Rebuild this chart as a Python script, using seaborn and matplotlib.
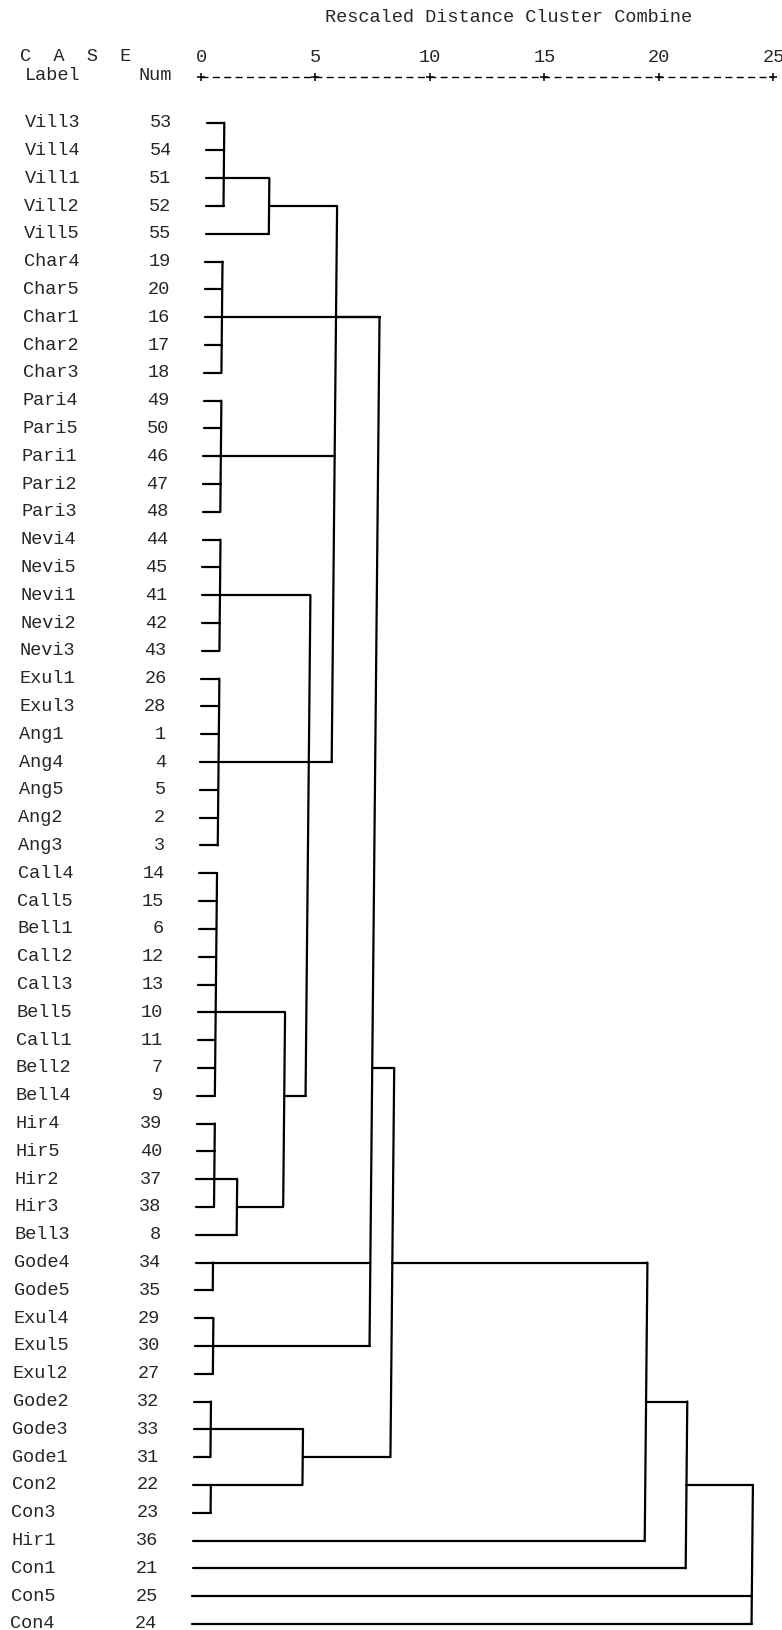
import matplotlib
matplotlib.use("Agg")
import pandas as pd
import matplotlib.pyplot as plt
import seaborn as sns

# --- estilo ---
sns.set_style("white")
plt.rcParams['font.family'] = ['Liberation Mono', 'DejaVu Sans Mono']

case_labels = ["Vill3", "Vill4", "Vill1", "Vill2", "Vill5",
               "Char4", "Char5", "Char1", "Char2", "Char3",
               "Pari4", "Pari5", "Pari1", "Pari2", "Pari3",
               "Nevi4", "Nevi5", "Nevi1", "Nevi2", "Nevi3",
               "Exul1", "Exul3", "Ang1", "Ang4", "Ang5", "Ang2", "Ang3",
               "Call4", "Call5", "Bell1", "Call2", "Call3", "Bell5", "Call1", "Bell2", "Bell4",
               "Hir4", "Hir5", "Hir2", "Hir3", "Bell3",
               "Gode4", "Gode5", "Exul4", "Exul5", "Exul2",
               "Gode2", "Gode3", "Gode1", "Con2", "Con3",
               "Hir1", "Con1", "Con5", "Con4"]
case_nums = [53, 54, 51, 52, 55, 19, 20, 16, 17, 18, 49, 50, 46, 47, 48,
             44, 45, 41, 42, 43, 26, 28, 1, 4, 5, 2, 3,
             14, 15, 6, 12, 13, 10, 11, 7, 9, 39, 40, 37, 38, 8,
             34, 35, 29, 30, 27, 32, 33, 31, 22, 23, 36, 21, 25, 24]

# fusoes: nome, filhos, distancia reescalada, caso onde sai a linha de ligacao
merge_names = ["V1", "V", "C", "P", "N", "EA", "CB", "H", "HB", "CBH", "NEC", "VPN",
               "G45", "E452", "T", "G231", "C23", "GC", "TG", "TH", "TC", "ALL"]
merge_children = [
    ["Vill3", "Vill4", "Vill1", "Vill2"],
    ["V1", "Vill5"],
    ["Char4", "Char5", "Char1", "Char2", "Char3"],
    ["Pari4", "Pari5", "Pari1", "Pari2", "Pari3"],
    ["Nevi4", "Nevi5", "Nevi1", "Nevi2", "Nevi3"],
    ["Exul1", "Exul3", "Ang1", "Ang4", "Ang5", "Ang2", "Ang3"],
    ["Call4", "Call5", "Bell1", "Call2", "Call3", "Bell5", "Call1", "Bell2", "Bell4"],
    ["Hir4", "Hir5", "Hir2", "Hir3"],
    ["H", "Bell3"],
    ["CB", "HB"],
    ["N", "EA", "CBH"],
    ["V", "P", "NEC"],
    ["Gode4", "Gode5"],
    ["Exul4", "Exul5", "Exul2"],
    ["VPN", "C", "G45", "E452"],
    ["Gode2", "Gode3", "Gode1"],
    ["Con2", "Con3"],
    ["G231", "C23"],
    ["T", "GC"],
    ["TG", "Hir1"],
    ["TH", "Con1"],
    ["TC", "Con5", "Con4"],
]
merge_heights = [1.04, 3.03, 1.02, 1.03, 1.05, 1.06, 1.04, 1.05, 2.05, 4.07, 5.0, 6.0,
                 1.03, 1.07, 7.9, 1.0, 1.03, 5.03, 8.86, 20.0, 21.8, 24.7]
merge_anchors = ["Vill1", "Vill2", "Char1", "Pari1", "Nevi1", "Ang4", "Bell5", "Hir2",
                 "Hir3", "Bell4", "Ang4", "Char1", "Gode4", "Exul5", "Bell2", "Gode3",
                 "Con2", "Gode1", "Gode4", "Gode2", "Con2", "Con5"]

scale_ticks = [0, 5, 10, 15, 20, 25]
LEAF_START = 0.27

# --- layout (pixels da imagem) ---
W, H = 782, 1630
X0_PX, PX_PER_UNIT = 200.5, 22.9
ROW0_PX, PX_PER_ROW = 122.7, 27.8
SHEAR = -0.27 / PX_PER_UNIT   # pagina digitalizada levemente inclinada


def ux(px):
    return (px - X0_PX) / PX_PER_UNIT


def ry(py):
    return (py - ROW0_PX) / PX_PER_ROW


def sx(u, r):
    return u + SHEAR * r


# --- monta os segmentos do dendrograma ---
nodes = {lab: (i, LEAF_START) for i, lab in enumerate(case_labels)}
rows = []
seg = 0
for name, kids, h, anchor in zip(merge_names, merge_children, merge_heights, merge_anchors):
    kid_rows = []
    for k in kids:
        r, hk = nodes[k]
        kid_rows.append(r)
        rows += [(seg, sx(hk, r), r), (seg, sx(h, r), r)]
        seg += 1
    rows += [(seg, sx(h, min(kid_rows)), min(kid_rows)),
             (seg, sx(h, max(kid_rows)), max(kid_rows))]
    seg += 1
    nodes[name] = (case_labels.index(anchor), h)

df_seg = pd.DataFrame(rows, columns=["seg", "x", "row"])

fig = plt.figure(figsize=(W / 100, H / 100), dpi=100)
ax = fig.add_axes([0, 0, 1, 1])

sns.lineplot(data=df_seg, x="x", y="row", units="seg", estimator=None, sort=False,
             color="black", linewidth=1.6, legend=False, ax=ax)

# regua de distancia
r_line = ry(77)
ax.plot([sx(scale_ticks[0], r_line), sx(scale_ticks[-1], r_line)], [r_line, r_line],
        color="black", linewidth=1.0, dashes=(5, 3.2), dash_capstyle="butt")
df_ticks = pd.DataFrame({"x": [sx(t, r_line) for t in scale_ticks],
                         "row": [r_line] * len(scale_ticks)})
sns.scatterplot(data=df_ticks, x="x", y="row", marker="+", s=40, color="black",
                linewidth=1.1, ax=ax, zorder=3)
for t in scale_ticks:
    ax.text(sx(t, ry(58)), ry(58), str(t), ha="center", va="center", fontsize=13.4)

# cabecalho
ax.text(ux(325), ry(18), "Rescaled Distance Cluster Combine", ha="left", va="center",
        fontsize=13.4)
ax.text(ux(20), ry(57), "C  A  S  E", ha="left", va="center", fontsize=13.4)
ax.text(ux(25), ry(76), "Label", ha="left", va="center", fontsize=13.4)
ax.text(ux(172), ry(76), "Num", ha="right", va="center", fontsize=13.4)

# rotulos dos casos
for i, (lab, num) in enumerate(zip(case_labels, case_nums)):
    ax.text(sx(ux(25), i), i, lab, ha="left", va="center", fontsize=13.4)
    ax.text(sx(ux(172), i), i, str(num), ha="right", va="center", fontsize=13.4)

ax.set_xlim(ux(0), ux(W))
ax.set_ylim(ry(H), ry(0))
ax.axis("off")

fig.savefig("out.png", dpi=100, facecolor="white")
